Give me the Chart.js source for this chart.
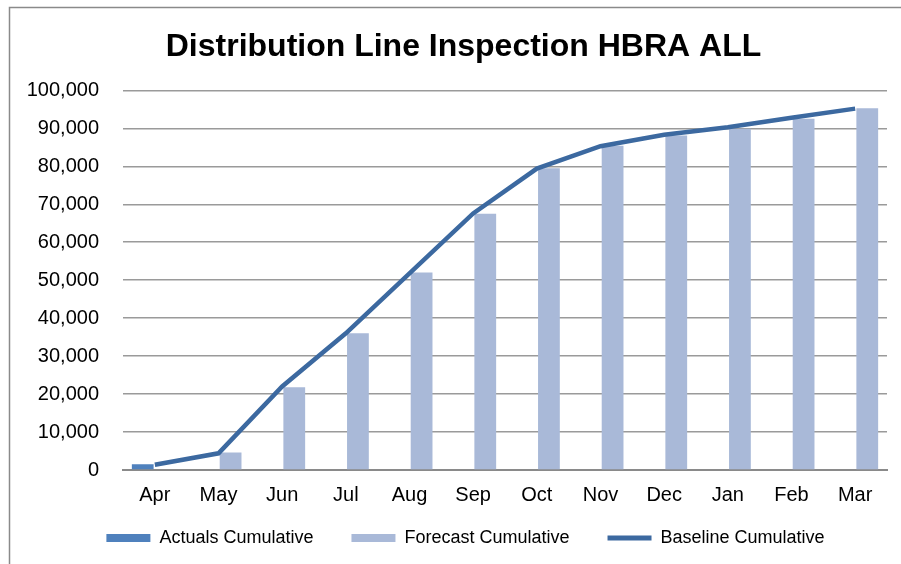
<!DOCTYPE html>
<html>
<head>
<meta charset="utf-8">
<script src="https://cdn.jsdelivr.net/npm/chart.js@4"></script>
<style>
  html, body { margin: 0; padding: 0; background: #fff; }
  #wrap { width: 901px; height: 564px; position: relative; }
</style>
</head>
<body>
<div id="wrap"><canvas id="chart" width="901" height="564"></canvas></div>
<script>
const months = ['Apr', 'May', 'Jun', 'Jul', 'Aug', 'Sep', 'Oct', 'Nov', 'Dec', 'Jan', 'Feb', 'Mar'];
const actualsCumulative = [1500, null, null, null, null, null, null, null, null, null, null, null];
const forecastCumulative = [null, 4600, 21800, 36000, 52000, 67500, 79500, 85400, 88100, 89900, 92500, 95300];
const baselineCumulative = [1400, 4400, 22000, 36000, 51800, 67600, 79400, 85300, 88300, 90300, 92800, 95200];

const FONT = '"Liberation Sans", Arial, sans-serif';

// grey frame line along the left and top edges
const framePlugin = {
  id: 'frame',
  beforeDraw(chart) {
    const c = chart.ctx;
    c.save();
    c.fillStyle = '#fff';
    c.fillRect(0, 0, chart.width, chart.height);
    c.strokeStyle = '#8a8a8a';
    c.lineWidth = 1.5;
    c.beginPath();
    c.moveTo(9.5, chart.height);
    c.lineTo(9.5, 7.5);
    c.lineTo(chart.width, 7.5);
    c.stroke();
    c.restore();
  }
};

// nudge the title and legend row to where they sit in the original
const blockShift = {
  id: 'blockShift',
  afterLayout(chart) {
    const lg = chart.legend;
    lg.left += 12; lg.right += 12;
    lg.top -= 29;
    lg.bottom = chart.height;
    lg.height = lg.bottom - lg.top;
    const tb = chart.titleBlock;
    tb.left += 10; tb.right += 10;
  }
};

new Chart(document.getElementById('chart'), {
  data: {
    labels: months,
    datasets: [
      {
        type: 'bar',
        label: 'Actuals Cumulative',
        data: actualsCumulative,
        backgroundColor: '#4f81bd',
        categoryPercentage: 0.76,
        barPercentage: 0.9,
        order: 2
      },
      {
        type: 'bar',
        label: 'Forecast Cumulative',
        data: forecastCumulative,
        backgroundColor: '#a9b9d8',
        categoryPercentage: 0.76,
        barPercentage: 0.9,
        order: 2
      },
      {
        type: 'line',
        label: 'Baseline Cumulative',
        data: baselineCumulative,
        borderColor: '#3c69a0',
        backgroundColor: '#3c69a0',
        borderWidth: 4.5,
        pointRadius: 0,
        tension: 0,
        order: 1
      }
    ]
  },
  options: {
    responsive: false,
    animation: false,
    layout: { padding: { left: 20, right: 14, top: 14, bottom: 0 } },
    plugins: {
      title: {
        display: true,
        text: 'Distribution Line Inspection HBRA ALL',
        color: '#000',
        font: { family: FONT, size: 32, weight: 'bold' },
        padding: { top: 14, bottom: 24 }
      },
      legend: {
        position: 'bottom',
        maxHeight: 44,
        labels: {
          color: '#000',
          font: { family: FONT, size: 18 },
          usePointStyle: true,
          pointStyleWidth: 44,
          boxHeight: 8,
          padding: 38,
          sort: (a, b) => a.datasetIndex - b.datasetIndex,
          generateLabels(chart) {
            return chart.data.datasets.map((ds, i) => ({
              text: ds.label,
              datasetIndex: i,
              fillStyle: ds.backgroundColor,
              strokeStyle: ds.type === 'line' ? ds.borderColor : ds.backgroundColor,
              lineWidth: ds.type === 'line' ? 5 : 0,
              pointStyle: ds.type === 'line' ? 'line' : 'rect',
              fontColor: '#000'
            }));
          }
        }
      },
      tooltip: { enabled: false }
    },
    scales: {
      x: {
        grid: { display: false, drawTicks: false },
        border: { color: '#8a8a8a', width: 2 },
        ticks: { color: '#000', font: { family: FONT, size: 20 }, padding: 13 }
      },
      y: {
        min: 0,
        max: 100000,
        afterFit(scale) { scale.width = 103; },
        grid: { color: '#9a9a9a', lineWidth: 1.5, drawTicks: false },
        border: { display: false },
        ticks: {
          stepSize: 10000,
          color: '#000',
          padding: 24,
          font: { family: FONT, size: 20 },
          callback: v => v.toLocaleString('en-US')
        }
      }
    }
  },
  plugins: [framePlugin, blockShift]
});
</script>
</body>
</html>
